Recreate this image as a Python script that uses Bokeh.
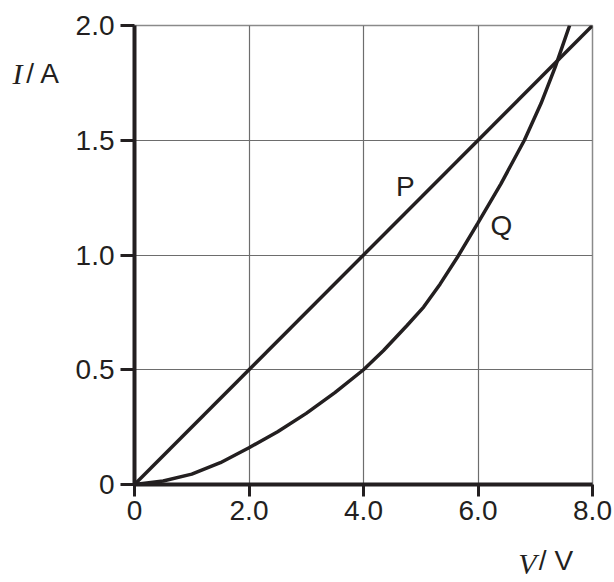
from bokeh.plotting import figure
from bokeh.models import Range1d, FixedTicker, LinearAxis
from bokeh.core.properties import value
from bokeh.embed import file_html
from bokeh.resources import INLINE

# ---- data ----
p_v = [0.0, 8.0]
p_i = [0.0, 2.0]

q_v = [0.0, 0.5, 1.0, 1.5, 2.0, 2.5, 3.0, 3.5, 4.0, 4.35, 4.76, 5.05, 5.34, 5.64,
       6.0, 6.4, 6.81, 7.1, 7.35, 7.6]
q_i = [0.0, 0.015, 0.045, 0.095, 0.16, 0.23, 0.31, 0.40, 0.50, 0.584, 0.693, 0.773, 0.874, 0.99,
       1.14, 1.31, 1.50, 1.66, 1.82, 2.0]

x_ticks = [0, 2, 4, 6, 8]
x_tick_labels = ["0", "2.0", "4.0", "6.0", "8.0"]
y_ticks = [0, 0.5, 1.0, 1.5, 2.0]
y_tick_labels = ["0", "0.5", "1.0", "1.5", "2.0"]

curve_names = ["P", "Q"]
name_v = [4.73, 6.41]
name_i = [1.30, 1.13]

# axis titles: quantity symbol (italic) and "/ unit"
y_title_symbol = "I"
y_title_unit = "/ A"
x_title_symbol = "V"
x_title_unit = "/ V"
y_title_at = 1.79
x_symbol_at = 6.865
x_unit_at = 7.362

FONT = "Liberation Sans"
SERIF = "Liberation Serif"
INK = "#231f20"

p = figure(width=614, height=582, output_backend="svg", toolbar_location=None,
           x_range=Range1d(0, 8), y_range=Range1d(0, 2),
           min_border_left=134, min_border_right=22, min_border_top=25, min_border_bottom=98)

p.outline_line_color = "#8a8a8a"
p.outline_line_width = 1.5

for ax in (p.xaxis[0], p.yaxis[0]):
    ax.axis_line_color = INK
    ax.axis_line_width = 4
    ax.major_tick_line_color = INK
    ax.major_tick_line_width = 3
    ax.major_tick_in = 0
    ax.minor_tick_line_color = None
    ax.major_label_text_font = FONT
    ax.major_label_text_font_size = "28px"
    ax.major_label_text_color = INK

p.xaxis[0].ticker = FixedTicker(ticks=x_ticks)
p.xaxis[0].major_label_overrides = {t: l for t, l in zip(x_ticks, x_tick_labels)}
p.xaxis[0].major_tick_out = 12
p.xaxis[0].major_label_standoff = 4

p.yaxis[0].ticker = FixedTicker(ticks=y_ticks)
p.yaxis[0].major_label_overrides = {t: l for t, l in zip(y_ticks, y_tick_labels)}
p.yaxis[0].major_tick_out = 14
p.yaxis[0].major_label_standoff = 6

p.xgrid.ticker = FixedTicker(ticks=x_ticks)
p.ygrid.ticker = FixedTicker(ticks=y_ticks)
for g in (p.xgrid[0], p.ygrid[0]):
    g.grid_line_color = "#6d6d6d"
    g.grid_line_width = 1.2


def title_axis(tick, text, font, size, style, standoff):
    a = LinearAxis(ticker=FixedTicker(ticks=[tick]), major_label_overrides={tick: text})
    a.axis_line_color = None
    a.major_tick_line_color = None
    a.minor_tick_line_color = None
    a.major_tick_out = 0
    a.major_tick_in = 0
    a.minor_tick_out = 0
    a.minor_tick_in = 0
    a.major_label_text_font = font
    a.major_label_text_font_size = size
    a.major_label_text_font_style = style
    a.major_label_text_color = INK
    a.major_label_standoff = standoff
    return a


# y title: "/ A" next to the tick labels, italic "I" further left
p.add_layout(title_axis(y_title_at, y_title_unit, FONT, "28px", "normal", 12), "left")
p.add_layout(title_axis(y_title_at, y_title_symbol, SERIF, "30px", "italic", 1), "left")
# x title: "/ V" below the tick labels, italic "V" pulled up onto the same row
p.add_layout(title_axis(x_unit_at, x_title_unit, FONT, "28px", "normal", 22), "below")
p.add_layout(title_axis(x_symbol_at, x_title_symbol, SERIF, "30px", "italic", -32), "below")

p.line(p_v, p_i, line_color=INK, line_width=3.5)
p.line(q_v, q_i, line_color=INK, line_width=3.5)

p.text(x=name_v, y=name_i, text=curve_names, text_font=value(FONT), text_font_size="28px",
       text_color=INK, text_align="center", text_baseline="middle")

open("out.html", "w").write(file_html(p, INLINE))
